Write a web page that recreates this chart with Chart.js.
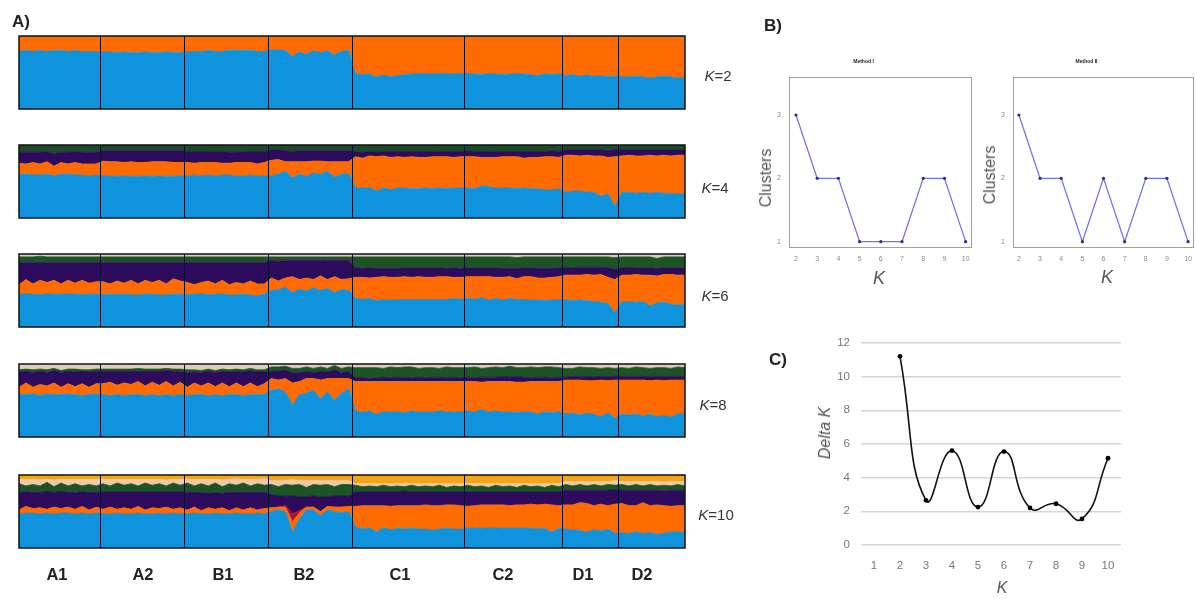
<!DOCTYPE html>
<html lang="en">
<head>
<meta charset="UTF-8">
<title>Population structure</title>
<script src="https://cdn.jsdelivr.net/npm/chart.js"></script>
<style>
    html, body { margin: 0; padding: 0; background: #fff; }
    #stage { position: relative; width: 1195px; height: 599px; overflow: hidden; font-family: "Liberation Sans", Arial, sans-serif; filter: blur(0.7px); }
    #stage canvas { position: absolute; }
    .txt { position: absolute; white-space: nowrap; transform: translate(-50%, -50%); }
    .panel { font-weight: bold; font-size: 17px; color: #222; }
    .pop { font-weight: bold; font-size: 16.5px; color: #222; }
    .k { font-size: 15px; color: #333; }
    .axis { font-size: 16px; color: #555; }
    .rot { transform: translate(-50%, -50%) rotate(-90deg); }
</style>
</head>
<body>
<div id="stage">
    <canvas id="k2" style="left:18px;top:35px" width="668" height="75"></canvas>
    <canvas id="k4" style="left:18px;top:144px" width="668" height="75"></canvas>
    <canvas id="k6" style="left:18px;top:253px" width="668" height="75"></canvas>
    <canvas id="k8" style="left:18px;top:363px" width="668" height="75"></canvas>
    <canvas id="k10" style="left:18px;top:474px" width="668" height="75"></canvas>
    <canvas id="method1" style="left:755px;top:55px" width="225" height="240"></canvas>
    <canvas id="method2" style="left:979px;top:55px" width="222" height="240"></canvas>
    <canvas id="delta" style="left:790px;top:325px" width="340" height="270"></canvas>

    <div class="txt panel" style="left:21px;top:22px">A)</div>
    <div class="txt panel" style="left:773px;top:26px">B)</div>
    <div class="txt panel" style="left:778px;top:360px">C)</div>

    <div class="txt k" style="left:718px;top:75px"><i>K</i>=2</div>
    <div class="txt k" style="left:715px;top:187px"><i>K</i>=4</div>
    <div class="txt k" style="left:715px;top:295px"><i>K</i>=6</div>
    <div class="txt k" style="left:713px;top:404px"><i>K</i>=8</div>
    <div class="txt k" style="left:716px;top:514px"><i>K</i>=10</div>

    <div class="txt pop" style="left:57px;top:574px">A1</div>
    <div class="txt pop" style="left:143px;top:574px">A2</div>
    <div class="txt pop" style="left:223px;top:574px">B1</div>
    <div class="txt pop" style="left:304px;top:574px">B2</div>
    <div class="txt pop" style="left:400px;top:574px">C1</div>
    <div class="txt pop" style="left:503px;top:574px">C2</div>
    <div class="txt pop" style="left:583px;top:574px">D1</div>
    <div class="txt pop" style="left:642px;top:574px">D2</div>

    <div class="txt axis rot" style="left:766px;top:178px">Clusters</div>
    <div class="txt axis rot" style="left:990px;top:175px">Clusters</div>
    <div class="txt axis" style="left:879px;top:278px;font-size:18px"><i>K</i></div>
    <div class="txt axis" style="left:1107px;top:277px;font-size:18px"><i>K</i></div>
    <div class="txt axis rot" style="left:825px;top:433px"><i>Delta K</i></div>
    <div class="txt axis" style="left:1002px;top:588px"><i>K</i></div>
</div>

<script>
// populations along the strips, number of columns in each
const popNames = ['A1', 'A2', 'B1', 'B2', 'C1', 'C2', 'D1', 'D2'];
const popSizes = [12, 12, 12, 12, 16, 14, 8, 10];

// K=2 (share of each column, bottom to top)
const k2Blue = [79,80,79,80,79,80,80,79,80,79,79,79, 78,78,77,78,77,77,78,77,77,78,77,77, 79,79,79,80,79,79,80,80,80,80,79,79, 81,81,80,72,78,75,80,77,80,74,79,80, 48,47,48,44,47,44,46,47,48,49,49,48,49,49,48,49, 49,48,47,49,48,47,48,49,48,47,46,48,47,48, 46,47,45,47,45,46,44,45, 44,44,45,44,43,44,45,44,43,44];
const k2Orange = [21,20,21,20,21,20,20,21,20,21,21,21, 22,22,23,22,23,23,22,23,23,22,23,23, 21,21,21,20,21,21,20,20,20,20,21,21, 19,19,20,28,22,25,20,23,20,26,21,20, 52,53,52,56,53,56,54,53,52,51,51,52,51,51,52,51, 51,52,53,51,52,53,52,51,52,53,54,52,53,52, 54,53,55,53,55,54,56,55, 56,56,55,56,57,56,55,56,57,56];

// K=4
const k4Blue = [59,60,59,59,60,58,60,60,59,59,58,59, 58,58,57,58,57,57,58,57,58,57,57,58, 58,59,58,59,58,59,59,58,58,59,58,58, 58,60,64,55,60,57,62,60,64,56,60,61, 42,41,42,37,41,39,41,41,40,40,41,40,41,40,41,41, 41,40,44,43,41,42,41,40,41,40,40,39,39,40, 36,37,37,36,35,30,33,16, 35,35,34,35,34,35,34,34,33,34];
const k4Orange = [16,14,17,15,17,13,16,14,17,15,16,15, 20,19,20,18,20,19,18,20,19,20,19,18, 18,16,18,17,18,16,16,18,18,17,16,18, 21,20,13,22,17,20,16,18,13,21,17,16, 42,41,43,47,44,44,43,42,44,43,42,44,43,44,42,43, 43,44,39,40,42,42,43,44,41,43,43,45,45,43, 50,49,48,50,50,55,50,68, 50,51,51,50,52,50,52,51,53,52];
const k4Purple = [15,16,14,16,14,17,14,16,15,16,15,16, 14,15,15,16,15,16,16,15,15,15,16,16, 15,16,15,15,15,16,15,14,15,15,17,15, 14,13,15,14,15,15,14,14,15,15,15,15, 7,8,6,7,6,8,7,8,7,8,8,7,7,7,8,7, 8,7,8,8,8,7,7,7,9,8,8,7,8,8, 7,7,8,7,8,8,9,9, 8,7,8,8,7,8,7,8,7,7];
const k4Green = [11,11,11,11,11,12,11,11,11,11,11,11, 10,10,10,10,10,10,10,10,10,10,10,10, 10,10,10,10,10,10,10,11,10,10,10,10, 8,8,9,10,9,9,9,9,9,9,9,9, 10,10,10,10,10,10,10,10,10,10,10,10,10,10,10,10, 9,9,9,9,9,9,9,9,9,9,9,9,9,9, 7,7,7,7,7,7,8,8, 7,7,7,7,7,7,7,7,7,7];

// K=6
const k6Blue = [45,46,45,44,46,45,45,46,45,44,45,45, 44,45,44,45,44,44,45,45,44,44,45,45, 44,45,46,44,45,46,44,44,45,44,43,45, 50,51,55,47,52,49,54,50,53,47,51,50, 39,38,39,36,38,37,38,38,38,38,38,38,38,38,39,38, 39,38,40,37,39,37,39,38,38,37,37,36,37,38, 37,36,37,36,35,34,32,20, 35,35,34,35,29,33,34,31,30,31];
const k6Orange = [13,19,14,20,15,19,14,18,15,20,15,17, 18,14,19,15,20,15,19,16,20,15,21,18, 17,13,15,19,14,18,14,17,14,19,16,14, 17,12,12,22,13,18,11,20,12,22,14,16, 29,30,28,32,31,31,30,31,30,31,30,30,31,31,29,30, 30,31,29,32,29,31,30,28,31,32,30,31,31,31, 34,35,34,36,36,38,36,45, 36,36,38,36,42,37,38,41,41,40];
const k6Purple = [30,23,29,24,27,24,29,24,28,24,28,26, 26,29,25,28,24,29,24,27,24,29,22,25, 27,30,27,25,29,24,30,27,29,25,29,29, 24,27,24,22,26,24,26,21,26,22,26,25, 13,12,14,12,11,12,12,12,13,12,13,13,12,11,13,12, 12,12,12,12,13,12,11,14,12,12,13,13,12,12, 11,10,11,10,11,10,13,14, 10,11,9,10,10,10,9,9,10,10];
const k6Green = [8,8,8,9,8,8,8,8,8,8,8,8, 8,8,8,8,8,8,8,8,8,8,8,8, 8,8,8,8,8,8,8,8,8,8,8,8, 5,6,5,5,5,5,5,5,5,5,5,5, 15,16,15,16,16,16,16,15,15,15,15,15,15,16,15,16, 15,15,15,15,15,16,16,15,15,15,16,16,16,15, 14,15,14,14,14,14,15,16, 15,14,15,15,15,14,15,15,15,15];
const k6Pale = [5,5,5,5,5,5,5,5,5,5,5,5, 5,5,5,5,5,5,5,5,5,5,5,5, 5,5,5,5,5,5,5,5,5,5,5,5, 5,5,5,5,5,5,5,5,5,5,5,5, 5,5,5,5,5,5,5,5,5,5,5,5,5,5,5,5, 5,5,5,5,5,5,5,5,5,5,5,5,5,5, 5,5,5,5,5,5,5,5, 5,5,5,5,5,5,5,5,5,5];

// K=8
const k8Blue = [58,58,59,57,59,58,58,59,58,57,58,59, 58,57,58,57,58,58,57,58,57,58,57,58, 57,58,58,57,58,57,58,58,57,58,58,58, 64,66,62,44,58,60,64,52,62,50,60,66, 36,34,36,31,35,34,35,33,36,34,35,34,36,35,34,35, 36,34,38,34,36,34,35,33,35,34,32,34,33,35, 32,33,30,33,31,28,33,26, 31,30,31,29,31,28,30,27,32,33];
const k8Orange = [10,16,9,15,11,16,10,14,11,16,10,14, 15,18,13,17,14,18,13,17,14,18,13,17, 11,16,12,17,11,17,11,16,12,16,11,15, 16,12,18,30,18,20,16,26,18,30,20,14, 40,42,40,45,41,42,41,43,40,42,41,42,40,41,42,41, 40,42,37,42,40,42,41,42,40,42,44,42,43,41, 46,45,48,44,46,50,44,52, 47,48,47,49,46,50,47,51,46,45];
const k8Purple = [21,16,20,18,18,17,20,17,20,16,21,17, 17,15,19,16,18,14,20,15,19,15,20,15, 20,15,18,16,19,16,20,16,20,17,20,16, 10,12,12,14,12,10,8,12,9,12,8,10, 5,6,4,5,6,5,6,6,5,6,5,6,6,5,6,5, 6,5,7,6,6,7,6,8,7,5,6,6,5,6, 4,5,5,6,5,5,6,5, 5,5,5,5,6,5,6,5,5,5];
const k8Green = [3,3,4,3,4,3,3,3,4,3,3,3, 3,3,3,3,3,4,3,3,3,3,3,3, 4,3,3,3,3,3,3,3,3,3,3,3, 6,6,5,6,6,6,6,6,5,6,6,6, 14,13,15,14,12,15,13,14,15,12,14,13,12,15,13,14, 13,15,12,13,14,12,15,12,13,15,13,14,15,13, 12,11,13,12,13,11,12,11, 12,11,13,12,11,12,12,11,13,12];
const k8Pale = [8,7,8,7,8,6,9,7,7,8,8,7, 7,8,6,7,7,7,6,8,7,7,8,6, 7,9,8,8,8,8,8,8,8,8,8,8, 4,4,3,6,6,4,6,4,6,2,6,4, 5,5,5,5,6,4,5,4,4,6,4,5,6,4,5,5, 5,4,6,5,4,5,3,5,5,4,5,4,4,5, 6,6,4,5,5,6,5,6, 5,6,4,5,6,5,5,6,4,5];

// K=10
const k10Blue = [47,48,48,47,48,47,48,48,47,48,47,48, 47,47,48,47,47,48,47,47,48,47,48,47, 47,48,47,47,48,47,47,48,47,47,48,47, 50,52,50,22,40,52,52,44,52,50,48,50, 29,26,28,22,28,25,27,26,27,26,26,25,26,27,26,26, 27,28,27,28,28,27,28,27,28,27,26,27,22,27, 26,25,24,22,25,23,26,20, 21,20,22,20,21,19,20,22,22,21];
const k10Orange = [5,9,6,8,5,9,6,8,6,9,5,8, 6,9,5,8,6,9,5,8,6,9,5,8, 5,8,4,8,5,8,4,7,5,8,4,7, 5,4,6,14,8,4,4,6,5,6,8,7, 28,32,30,36,30,32,31,32,31,32,33,33,32,32,33,32, 30,30,32,31,31,32,30,32,31,33,33,33,37,31, 33,34,38,39,33,37,32,40, 40,38,36,42,37,40,38,35,36,37];
const k10Red = [0,0,0,0,0,0,0,0,0,0,0,0, 0,0,0,0,0,0,0,0,0,0,0,0, 0,0,0,0,0,0,0,0,0,0,0,0, 0,0,2,11,3,0,0,0,0,0,0,0, 0,0,0,0,0,0,0,0,0,0,0,0,0,0,0,0, 0,0,0,0,0,0,0,0,0,0,0,0,0,0, 0,0,0,0,0,0,0,0, 0,0,0,0,0,0,0,0,0,0];
const k10Purple = [24,20,22,21,25,20,24,20,23,20,24,20, 24,21,24,22,24,20,25,22,23,21,24,22, 24,20,25,20,23,20,25,21,24,21,24,22, 18,16,13,25,19,14,16,20,13,16,16,14, 20,19,19,19,19,20,19,20,19,19,18,19,19,18,18,19, 20,19,18,18,18,18,19,18,18,17,18,17,18,19, 20,20,17,18,21,19,21,20, 18,21,21,17,21,20,20,22,21,21];
const k10Green = [12,8,11,9,12,8,11,9,12,8,11,9, 11,8,12,9,11,8,12,9,11,8,12,9, 13,9,12,10,13,9,12,10,13,9,12,10, 14,12,16,14,17,13,15,16,17,12,15,16, 9,7,8,7,9,7,8,6,9,7,8,7,9,6,8,7, 9,7,8,6,9,7,8,6,9,7,8,6,9,7, 8,6,8,6,8,6,8,6, 8,6,8,6,8,6,8,6,8,6];
const k10Peach = [6,9,7,8,4,9,5,9,6,9,7,9, 6,9,5,8,6,9,5,8,6,8,5,8, 5,9,6,9,5,9,6,9,5,9,6,9, 5,8,5,8,5,9,5,6,5,8,5,5, 2,4,3,4,2,4,3,5,2,4,3,4,2,5,3,4, 2,4,3,5,2,4,3,5,2,4,3,5,2,4, 4,6,4,6,4,6,4,6, 4,6,4,6,4,6,4,6,4,6];
const k10Gold = [6,6,6,6,6,6,6,6,6,6,6,6, 6,6,6,6,6,6,6,6,6,6,6,6, 6,6,6,6,6,6,6,6,6,6,6,6, 8,8,8,8,8,8,8,8,8,8,8,8, 12,12,12,12,12,12,12,12,12,12,12,12,12,12,12,12, 12,12,12,12,12,12,12,12,12,12,12,12,12,12, 9,9,9,9,9,9,9,9, 9,9,9,9,9,9,9,9,9,9];

// panel B
const kValues = [2, 3, 4, 5, 6, 7, 8, 9, 10];
const method1Clusters = [3, 2, 2, 1, 1, 1, 2, 2, 1];
const method2Clusters = [3, 2, 2, 1, 2, 1, 2, 2, 1];

// panel C
const deltaLabels = ['1', '2', '3', '4', '5', '6', '7', '8', '9', '10'];
const deltaK = [null, 11.2, 2.65, 5.6, 2.25, 5.55, 2.2, 2.45, 1.55, 5.15];

const blue = '#0e93dc', orange = '#ff6b00', purple = '#2c0a5c', green = '#1c5426';
const pale = '#dccfb4', peach = '#f2c9a5', gold = '#f5a31a', red = '#b01030';

Chart.defaults.animation = false;
Chart.defaults.font.family = '"Liberation Sans", Arial, sans-serif';

const columns = popNames.flatMap((p, i) => Array.from({ length: popSizes[i] }, (_, j) => p + '-' + (j + 1)));

// black frame and the population separators
const stripFrame = {
    id: 'stripFrame',
    afterDatasetsDraw(chart) {
        const { ctx, chartArea: a, scales: { x } } = chart;
        ctx.save();
        ctx.strokeStyle = '#0b1230';
        ctx.lineWidth = 1;
        let n = 0;
        popSizes.slice(0, -1).forEach(size => {
            n += size;
            const px = Math.round((x.getPixelForValue(n - 1) + x.getPixelForValue(n)) / 2) + 0.5;
            ctx.beginPath();
            ctx.moveTo(px, a.top);
            ctx.lineTo(px, a.bottom);
            ctx.stroke();
        });
        ctx.strokeStyle = '#111';
        ctx.lineWidth = 1.5;
        ctx.strokeRect(a.left, a.top, a.right - a.left, a.bottom - a.top);
        ctx.restore();
    }
};

// stacked area per ancestry cluster, one point per column
function strip(id, layers) {
    new Chart(document.getElementById(id), {
        type: 'line',
        data: {
            labels: columns,
            datasets: layers.map(([values, color], i) => ({
                data: values,
                backgroundColor: color,
                borderColor: color,
                borderWidth: 0.8,
                pointRadius: 0,
                tension: 0,
                fill: i === 0 ? 'origin' : '-1'
            }))
        },
        options: {
            responsive: false,
            layout: { padding: 1 },
            plugins: { legend: { display: false }, tooltip: { enabled: false } },
            scales: {
                x: { display: false },
                y: { stacked: true, display: false, min: 0, max: 100 }
            }
        },
        plugins: [stripFrame]
    });
}

strip('k2', [[k2Blue, blue], [k2Orange, orange]]);
strip('k4', [[k4Blue, blue], [k4Orange, orange], [k4Purple, purple], [k4Green, '#1c4a2a']]);
strip('k6', [[k6Blue, blue], [k6Orange, orange], [k6Purple, purple], [k6Green, green], [k6Pale, pale]]);
strip('k8', [[k8Blue, blue], [k8Orange, orange], [k8Purple, purple], [k8Green, green], [k8Pale, pale]]);
strip('k10', [[k10Blue, blue], [k10Orange, orange], [k10Red, red], [k10Purple, purple], [k10Green, green], [k10Peach, peach], [k10Gold, gold]]);

const boxFrame = {
    id: 'boxFrame',
    afterDatasetsDraw(chart) {
        const { ctx, chartArea: a } = chart;
        ctx.save();
        ctx.strokeStyle = '#a0a0a0';
        ctx.lineWidth = 1;
        ctx.strokeRect(a.left + 0.5, a.top + 0.5, a.right - a.left - 1, a.bottom - a.top - 1);
        ctx.restore();
    }
};

function clusterChart(id, title, values, rightPad, xMin, xMax) {
    new Chart(document.getElementById(id), {
        type: 'line',
        data: {
            datasets: [{
                data: values.map((v, i) => ({ x: kValues[i], y: v })),
                borderColor: '#7474e6',
                borderWidth: 1.3,
                pointRadius: 1.6,
                pointBackgroundColor: '#2c2c90',
                pointBorderWidth: 0,
                tension: 0
            }]
        },
        options: {
            responsive: false,
            layout: { padding: { right: rightPad } },
            plugins: {
                legend: { display: false },
                tooltip: { enabled: false },
                title: { display: true, text: title, color: '#222', font: { size: 5, weight: 'bold' }, padding: { top: 4, bottom: 12 } }
            },
            scales: {
                x: {
                    type: 'linear', min: xMin, max: xMax,
                    grid: { display: false, drawTicks: false },
                    border: { display: false },
                    ticks: { stepSize: 1, includeBounds: false, color: '#888', font: { size: 7 }, maxRotation: 0, padding: 7 },
                    afterFit(s) { s.height = 47; }
                },
                y: {
                    min: 0.9, max: 3.6,
                    grid: { display: false, drawTicks: false },
                    border: { display: false },
                    ticks: { stepSize: 1, includeBounds: false, color: '#888', font: { size: 7 }, padding: 8 },
                    afterFit(s) { s.width = 34; }
                }
            }
        },
        plugins: [boxFrame]
    });
}

clusterChart('method1', 'Method I', method1Clusters, 8, 1.67, 10.3);
clusterChart('method2', 'Method II', method2Clusters, 7, 1.72, 10.28);

new Chart(document.getElementById('delta'), {
    type: 'line',
    data: {
        labels: deltaLabels,
        datasets: [{
            data: deltaK,
            borderColor: '#111',
            borderWidth: 1.6,
            pointRadius: 2.4,
            pointBackgroundColor: '#000',
            pointBorderWidth: 0,
            tension: 0.5
        }]
    },
    options: {
        responsive: false,
        layout: { padding: { top: 10, right: 9 } },
        plugins: { legend: { display: false }, tooltip: { enabled: false } },
        scales: {
            x: {
                offset: true,
                grid: { display: false },
                border: { display: false },
                ticks: { color: '#777', font: { size: 11.5 }, maxRotation: 0, padding: 6 },
                afterFit(s) { s.height = 50; }
            },
            y: {
                min: 0, max: 12,
                grid: { color: '#d6d6d6', lineWidth: 1.4, drawTicks: false },
                border: { display: false },
                ticks: { stepSize: 2, color: '#777', font: { size: 11.5 }, padding: 11 },
                afterFit(s) { s.width = 71; }
            }
        }
    }
});
</script>
</body>
</html>
